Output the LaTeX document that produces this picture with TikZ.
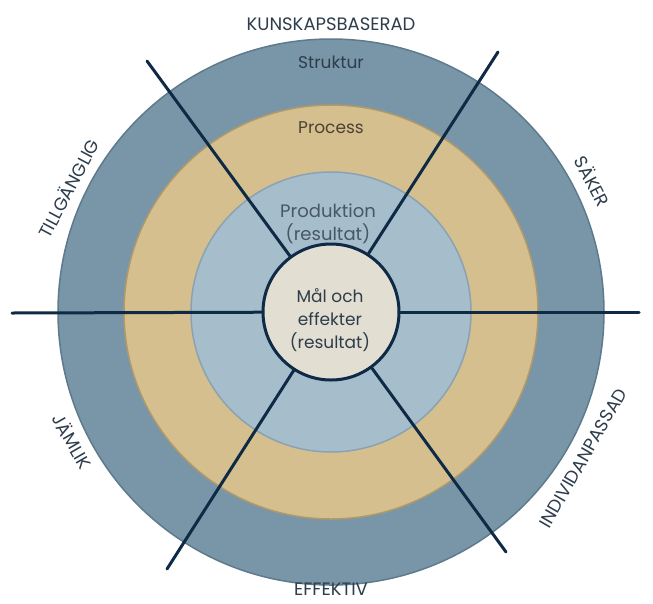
\documentclass[tikz,border=0pt]{standalone}
\usepackage{fontspec}
\setmainfont{Poppins}
\usetikzlibrary{positioning}
\definecolor{outerblue}{HTML}{7896A8}
\definecolor{outerline}{HTML}{5E7B8E}
\definecolor{tan}{HTML}{D5BF8E}
\definecolor{tanline}{HTML}{B09A6A}
\definecolor{paleblue}{HTML}{A6BECC}
\definecolor{paleline}{HTML}{8AA2B2}
\definecolor{core}{HTML}{E2DED2}
\definecolor{navy}{HTML}{0E2A45}
\definecolor{slate}{HTML}{2E3D4C}
\definecolor{brown}{HTML}{4B4232}
\tikzset{ring/.style={circle, inner sep=0pt, line width=1.5pt},
  spoke/.style={draw=navy, line width=3pt, line cap=round},
  rim/.style={text=slate, inner sep=0pt, font=\fontsize{18}{21}\selectfont},
  band/.style={inner sep=0pt, align=center, font=\fontsize{17}{23}\selectfont}}

\begin{document}
\begin{tikzpicture}[x=1pt,y=-1pt]
  \useasboundingbox (0,0) rectangle (653,603);
  \node[ring, fill=outerblue, draw=outerline, minimum size=546pt] (outer) at (331,312) {};
  \node[ring, fill=tan, draw=tanline, minimum size=414pt] (process) at (331,312) {};
  \node[ring, fill=paleblue, draw=paleline, minimum size=280pt] (prod) at (331,312) {};
  \node[ring, fill=core, draw=navy, line width=3pt, minimum size=136pt] (goal) at (331,312) {};
  \node[band, text=slate] at (330,320) {Mål och\\effekter\\(resultat)};

  \coordinate (tl) at (147,61);
  \coordinate (tr) at (498,52);
  \coordinate (bl) at (167,569);
  \coordinate (br) at (506,552);
  \coordinate (w) at (12,313);
  \coordinate (e) at (639,312);
  \foreach \p in {tl,tr,bl,br,w,e}
    \draw[spoke] (goal) -- (\p);

  \node[band, text=slate] (struktur) at (331,62) {Struktur};
  \node[band, text=brown] (proc) at (331,128) {Process};
  \node[band, text=slate!80!paleblue, font=\fontsize{18}{23}\selectfont] (produktion) at (328,224) {Produktion\\(resultat)};

  \node[rim] (kb) at (331,24) {KUNSKAPSBASERAD};
  \node[rim] (eff) at (331,589) {EFFEKTIV};
  \node[rim, rotate=62] (till) at (68,188) {TILLGÄNGLIG};
  \node[rim, rotate=-62] (saker) at (593,181) {SÄKER};
  \node[rim, rotate=60] (indiv) at (583,458) {INDIVIDANPASSAD};
  \node[rim, rotate=-60] (jamlik) at (73,441) {JÄMLIK};
\end{tikzpicture}
\end{document}
